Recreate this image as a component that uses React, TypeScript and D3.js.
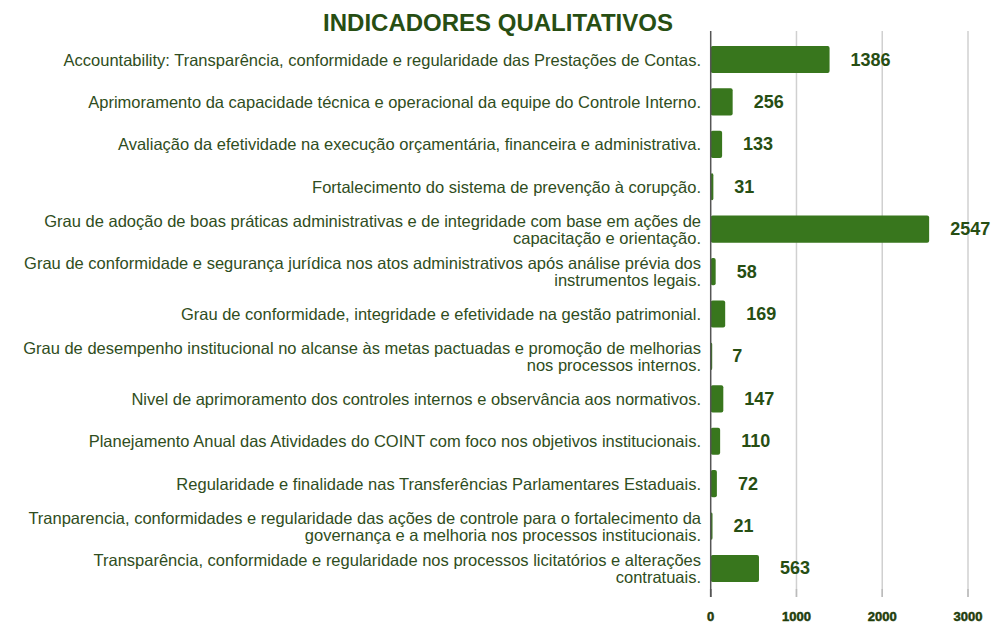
import React from "react";
import * as d3 from "d3";

const categories: string[][] = [
  ["Accountability: Transparência, conformidade e regularidade das Prestações de Contas."],
  ["Aprimoramento da capacidade técnica e operacional da equipe do Controle Interno."],
  ["Avaliação da efetividade na execução orçamentária, financeira e administrativa."],
  ["Fortalecimento do sistema de prevenção à corupção."],
  ["Grau de adoção de boas práticas administrativas e de integridade com base em ações de", "capacitação e orientação."],
  ["Grau de conformidade e segurança jurídica nos atos administrativos após análise prévia dos", "instrumentos legais."],
  ["Grau de conformidade, integridade e efetividade na gestão patrimonial."],
  ["Grau de desempenho institucional no alcanse às metas pactuadas e promoção de melhorias", "nos processos internos."],
  ["Nivel de aprimoramento dos controles internos e observância aos normativos."],
  ["Planejamento Anual das Atividades do COINT com foco nos objetivos institucionais."],
  ["Regularidade e finalidade nas Transferências Parlamentares Estaduais."],
  ["Tranparencia, conformidades e regularidade das ações de controle para o fortalecimento da", "governança e a melhoria nos processos institucionais."],
  ["Transparência, conformidade e regularidade nos processos licitatórios e alterações", "contratuais."],
];

const values: number[] = [1386, 256, 133, 31, 2547, 58, 169, 7, 147, 110, 72, 21, 563];

const xTicks: number[] = [0, 1000, 2000, 3000];

const title = "INDICADORES QUALITATIVOS";

const W = 991;
const H = 623;
const BAR = "#38761d";
const DARK = "#274e13";
const LABEL = "#2f4d21";
const FONT = "'Liberation Sans', Arial, sans-serif";

export default function App() {
  const x = d3.scaleLinear().domain([0, 3000]).range([710.7, 968]);
  const idx = categories.map((_, i) => String(i));
  const y = d3
    .scaleBand<string>()
    .domain(idx)
    .range([38.3, 589.7])
    .paddingInner(0.36)
    .paddingOuter(0.18);
  const bw = y.bandwidth();
  const lineH = 17;

  return (
    <svg
      width={W}
      height={H}
      style={{ position: "absolute", left: 0, top: 0, background: "#fff" }}
    >
      <rect width={W} height={H} fill="#fff" />
      <text
        x={498}
        y={30.5}
        textAnchor="middle"
        fontFamily={FONT}
        fontWeight="bold"
        fontSize={24}
        fill={DARK}
      >
        {title}
      </text>
      {xTicks.map((t) => (
        <g key={t}>
          {t !== 0 && (
            <line
              x1={x(t)}
              x2={x(t)}
              y1={31}
              y2={597}
              stroke="#d0d0d0"
              strokeWidth={1.5}
            />
          )}
          <line x1={x(t)} x2={x(t)} y1={589} y2={597} stroke={t === 0 ? "#333" : "#bbb"} strokeWidth={1.5} />
          <text
            x={x(t)}
            y={621}
            textAnchor="middle"
            fontFamily={FONT}
            fontWeight="bold"
            fontSize={13}
            fill="#1f3d0c"
            stroke="#1f3d0c"
            strokeWidth={0.5}
          >
            {t}
          </text>
        </g>
      ))}
      {values.map((v, i) => {
        const yc = (y(String(i)) as number) + bw / 2;
        const lines = categories[i];
        const y0 = yc - ((lines.length - 1) * lineH) / 2;
        return (
          <g key={i}>
            <rect
              x={x(0)}
              y={y(String(i))}
              width={Math.max(x(v) - x(0), 1.5)}
              height={bw}
              rx={2}
              fill={BAR}
            />
            <text
              x={x(v) + 21}
              y={yc}
              dominantBaseline="central"
              fontFamily={FONT}
              fontWeight="bold"
              fontSize={18}
              fill={DARK}
            >
              {v}
            </text>
            <text
              textAnchor="end"
              fontFamily={FONT}
              fontSize={16.5}
              fill={LABEL}
            >
              {lines.map((l, k) => (
                <tspan key={k} x={701} y={y0 + k * lineH} dominantBaseline="central">
                  {l}
                </tspan>
              ))}
            </text>
          </g>
        );
      })}
      <line x1={x(0)} x2={x(0)} y1={31} y2={597} stroke="#555" strokeWidth={1.5} />
    </svg>
  );
}
